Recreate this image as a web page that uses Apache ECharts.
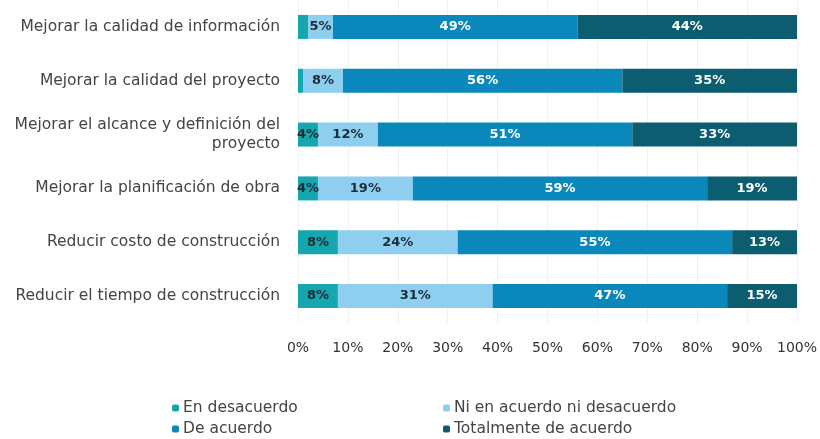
<!DOCTYPE html>
<html>
<head>
<meta charset="utf-8">
<script src="https://cdn.jsdelivr.net/npm/echarts@6/dist/echarts.min.js"></script>
<style>
  html, body { margin: 0; padding: 0; background: #fff; }
  #chart { width: 820px; height: 439px; }
</style>
</head>
<body>
<div id="chart"></div>
<script>
// categorias de arriba hacia abajo
const categories = [
  "Mejorar la calidad de información",
  "Mejorar la calidad del proyecto",
  "Mejorar el alcance y definición del\nproyecto",
  "Mejorar la planificación de obra",
  "Reducir costo de construcción",
  "Reducir el tiempo de construcción",
];
const enDesacuerdo = [2, 1, 4, 4, 8, 8];
const niAcuerdo = [5, 8, 12, 19, 24, 31];
const deAcuerdo = [49, 56, 51, 59, 55, 47];
const totalmente = [44, 35, 33, 19, 13, 15];
const xTicks = [0, 10, 20, 30, 40, 50, 60, 70, 80, 90, 100];
const seriesNames = [
  "En desacuerdo",
  "Ni en acuerdo ni desacuerdo",
  "De acuerdo",
  "Totalmente de acuerdo",
];

const chart = echarts.init(document.getElementById("chart"));
const font = "'DejaVu Sans', sans-serif";

const makeSeries = (name, data, color, labelColor) => ({
  name: name,
  type: "bar",
  stack: "total",
  data: data,
  barWidth: 24,
  itemStyle: { color: color },
  label: {
    show: true,
    color: labelColor,
    fontFamily: font,
    fontSize: 13,
    fontWeight: 600,
    formatter: (p) => (p.value >= 3 ? p.value + "%" : ""),
  },
});

// una leyenda por elemento, en dos columnas
const legendPos = [
  { left: 172, top: 400 },
  { left: 443, top: 400 },
  { left: 172, top: 421 },
  { left: 443, top: 421 },
];
const legends = seriesNames.map((n, i) => ({
  left: legendPos[i].left,
  top: legendPos[i].top,
  padding: 0,
  itemWidth: 7,
  itemHeight: 7,
  itemGap: 4,
  data: [n],
  textStyle: { color: "#444", fontFamily: font, fontSize: 15.5, padding: [0, 0, 0, -1] },
}));

const option = {
  animation: false,
  grid: { left: 298, right: 23, top: 0, bottom: 116 },
  xAxis: {
    type: "value",
    min: 0,
    max: 100,
    interval: 10,
    axisLine: { show: false },
    axisTick: { show: false },
    splitLine: { show: true, lineStyle: { color: "#f1f1f1" } },
    axisLabel: {
      margin: 18,
      color: "#333",
      fontFamily: font,
      fontSize: 14,
      formatter: (v) => (xTicks.includes(v) ? v + "%" : ""),
    },
  },
  yAxis: {
    type: "category",
    inverse: true,
    data: categories,
    axisLine: { show: false },
    axisTick: { show: false },
    axisLabel: {
      margin: 18,
      color: "#444",
      fontFamily: font,
      fontSize: 15.5,
      lineHeight: 19,
      align: "right",
    },
  },
  legend: legends,
  series: [
    makeSeries(seriesNames[0], enDesacuerdo, "#16a6ae", "#1d2b3a"),
    makeSeries(seriesNames[1], niAcuerdo, "#8ecff0", "#1d2b3a"),
    makeSeries(seriesNames[2], deAcuerdo, "#0b88bb", "#ffffff"),
    makeSeries(seriesNames[3], totalmente, "#0b5d6f", "#ffffff"),
  ],
};
chart.setOption(option);
</script>
</body>
</html>
